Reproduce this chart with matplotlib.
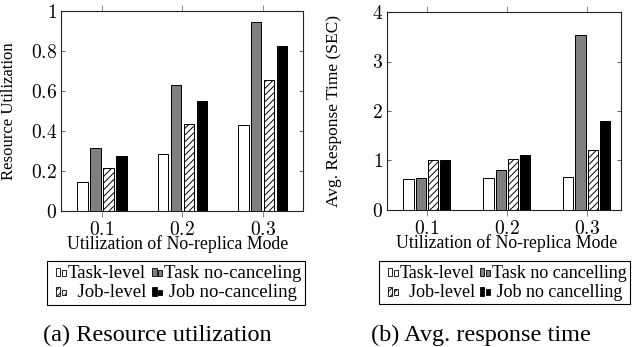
import matplotlib
matplotlib.use("Agg")
import matplotlib.pyplot as plt
from matplotlib.legend_handler import HandlerBase
from matplotlib.patches import Rectangle
from matplotlib.ticker import FuncFormatter
import numpy as np

plt.rcParams['font.family'] = ['Liberation Serif', 'DejaVu Serif']
plt.rcParams['mathtext.fontset'] = 'cm'
plt.rcParams['hatch.linewidth'] = 0.7

groups = [0.1, 0.2, 0.3]
xtick_labels = ['0.1', '0.2', '0.3']

# (a) Resource utilization
util_task_level = [0.145, 0.287, 0.432]
util_task_nocancel = [0.316, 0.631, 0.945]
util_job_level = [0.217, 0.436, 0.653]
util_job_nocancel = [0.275, 0.549, 0.823]
labels_a = ['Task-level', 'Task no-canceling', 'Job-level', 'Job no-canceling']

# (b) Avg. response time
resp_task_level = [0.632, 0.639, 0.666]
resp_task_nocancel = [0.639, 0.807, 3.536]
resp_job_level = [1.0, 1.04, 1.203]
resp_job_nocancel = [1.0, 1.12, 1.788]
labels_b = ['Task-level', 'Task no cancelling', 'Job-level', 'Job no cancelling']

styles = [
    dict(facecolor='white', hatch=None),
    dict(facecolor='#808080', hatch=None),
    dict(facecolor='white', hatch='/////'),
    dict(facecolor='black', hatch=None),
]


class TwoBarHandler(HandlerBase):
    def create_artists(self, legend, orig_handle, xdescent, ydescent,
                       width, height, fontsize, trans):
        fc = orig_handle.get_facecolor()
        hatch = orig_handle.get_hatch()
        bw = 3.0
        gap = 1.2
        x0 = -xdescent + width - (2 * bw + gap)
        yc = -ydescent + height / 2 - 0.5
        r1 = Rectangle((x0, yc - 3.2), bw, 6.4, facecolor=fc,
                       edgecolor='black', lw=0.6, hatch=hatch, transform=trans)
        r2 = Rectangle((x0 + bw + gap, yc - 2.8), bw, 4.0, facecolor=fc,
                       edgecolor='black', lw=0.6, hatch=hatch, transform=trans)
        return [r1, r2]


W, H = 632, 347
fig = plt.figure(figsize=(W / 100, H / 100), dpi=100)


def make_panel(rect, series, labels, ylim, yticks, ylabel, ylab_fs, xlim, pitch,
               ylab_x, xlab_x, leg_xy, leg_fs, caption, cap_x):
    l, t, r, b = rect
    ax = fig.add_axes([l / W, 1 - b / H, (r - l) / W, (b - t) / H])
    x = np.array(groups)
    bars = []
    for i, (vals, st) in enumerate(zip(series, styles)):
        off = (i - 1.5) * pitch
        bc = ax.bar(x + off, vals, width=0.0128, facecolor=st['facecolor'],
                    hatch=st['hatch'], edgecolor='black', linewidth=0.7,
                    zorder=2)
        bars.append(bc[0])
    ax.set_xlim(*xlim)
    ax.set_ylim(*ylim)
    ax.set_xticks(groups)
    ax.set_xticklabels(['$' + s + '$' for s in xtick_labels], fontsize=14)
    ax.set_yticks(yticks)
    ax.yaxis.set_major_formatter(FuncFormatter(lambda v, p: '$%g$' % v))
    ax.tick_params(axis='y', labelsize=14, direction='in', right=True,
                   length=3, width=0.6, color='#444444', pad=3)
    ax.tick_params(axis='x', direction='out', top=True, length=4, width=0.6,
                   color='#777777', pad=3.5)
    for s in ax.spines.values():
        s.set_linewidth(0.8)
        s.set_color('#222222')
    ax.set_ylabel(ylabel, fontsize=ylab_fs)
    ax.yaxis.set_label_coords(ylab_x, 0.5)
    ax.set_xlabel('Utilization of No-replica Mode', fontsize=12.8)
    ax.xaxis.set_label_coords(xlab_x, -0.12)
    order = [0, 2, 1, 3]
    leg_labels = [labels[i] for i in order]
    leg_labels[1] = '  ' + leg_labels[1]
    leg_labels[3] = ' ' + leg_labels[3]
    leg = ax.legend([bars[i] for i in order], leg_labels, ncol=2,
                    loc='upper left',
                    bbox_to_anchor=(leg_xy[0] / W, 1 - leg_xy[1] / H),
                    bbox_transform=fig.transFigure, fontsize=leg_fs,
                    handler_map={Rectangle: TwoBarHandler()},
                    handlelength=0.85, handletextpad=0.1, columnspacing=0.0,
                    labelspacing=0.12, borderpad=0.2, borderaxespad=0,
                    fancybox=False, frameon=True, edgecolor='black',
                    framealpha=1)
    leg.get_frame().set_linewidth(0.8)
    fig.text(cap_x / W, 1 - 335 / H, caption, fontsize=17.5, ha='center',
             va='center')
    return ax


make_panel((61, 11, 303, 211),
           [util_task_level, util_task_nocancel, util_job_level, util_job_nocancel],
           labels_a, (0, 1), [0, 0.2, 0.4, 0.6, 0.8, 1.0], 'Resource Utilization',
           12.1, (0.049, 0.35), 0.0161, -0.182, 0.48, (46.5, 261), 13.5,
           '(a) Resource utilization', 157)

make_panel((387, 12, 621, 210),
           [resp_task_level, resp_task_nocancel, resp_job_level, resp_job_nocancel],
           labels_b, (0, 4), [0, 1, 2, 3, 4], 'Avg. Response Time (SEC)',
           12.5, (0.0502, 0.343), 0.01525, -0.192, 0.51, (379, 261), 13.0,
           '(b) Avg. response time', 481)

fig.savefig('out.png', dpi=100)
